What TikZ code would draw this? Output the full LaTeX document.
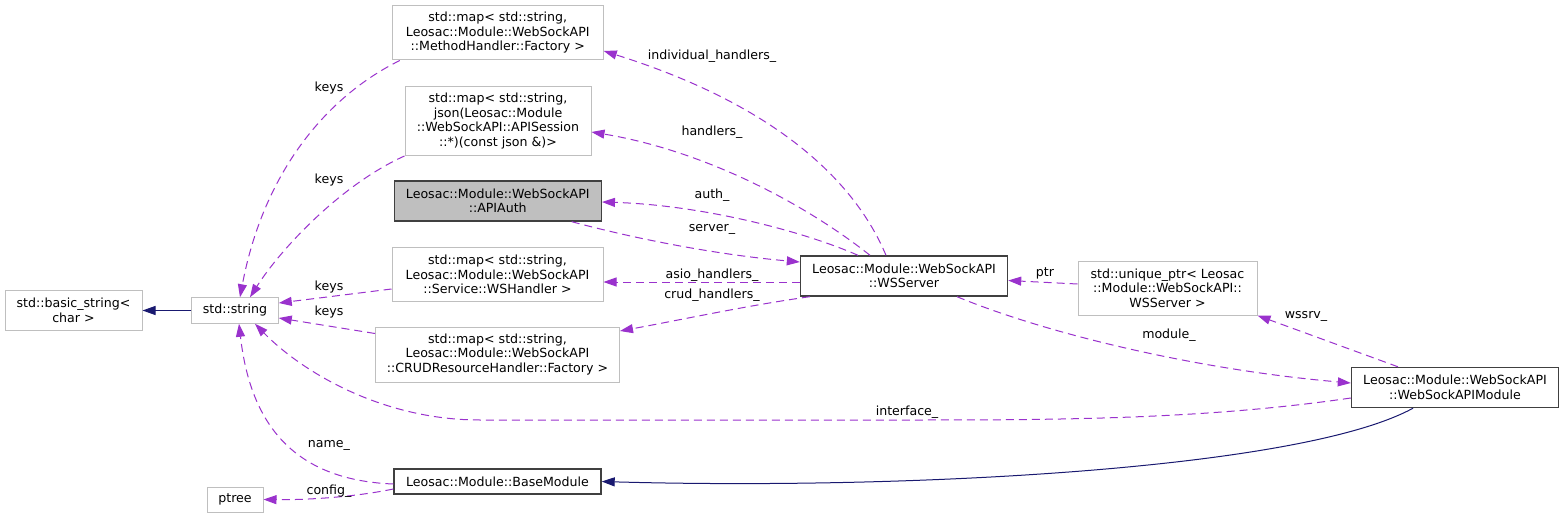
\documentclass[tikz,border=0pt]{standalone}
\usepackage{fontspec}
\setmainfont{DejaVu Sans}
\usetikzlibrary{arrows.meta,calc}
\definecolor{edgepurple}{RGB}{154,50,205}
\definecolor{navyedge}{RGB}{25,25,112}
\definecolor{boxgray}{RGB}{191,191,191}
\definecolor{docborder}{RGB}{64,64,64}
\tikzset{
  box/.style={draw=boxgray, line width=1pt, fill=white, inner sep=0pt, align=center,
    font=\fontsize{12.6}{14.5}\selectfont},
  docbox/.style={box, draw=docborder, line width=1.4pt},
  col/.style={draw=edgepurple, line width=1pt, dash pattern=on 8pt off 5pt,
    -{Triangle[length=13pt,width=9pt,fill=edgepurple]}},
  inh/.style={draw=navyedge, line width=1pt,
    -{Triangle[length=13pt,width=9pt,fill=navyedge]}},
  lbl/.style={inner sep=0pt, font=\fontsize{12.6}{14.5}\selectfont, text=black}
}
\begin{document}
\begin{tikzpicture}[x=1pt,y=-1pt]
\useasboundingbox (0,0) rectangle (1564,519);
\fill[white] (0,0) rectangle (1564,519);
% nodes
\node[box, minimum width=137pt, minimum height=40pt] (bs) at (73.5,310.5) {std::basic\_string<\\char >};
\node[box, minimum width=86.5pt, minimum height=25.5pt] (str) at (235,310.5) {std::string};
\node[box, minimum width=211pt, minimum height=54pt] (mh) at (497.75,33) {std::map< std::string,\\ Leosac::Module::WebSockAPI\\::MethodHandler::Factory >};
\node[box, minimum width=186pt, minimum height=69pt] (js) at (498,121) {std::map< std::string,\\ json(Leosac::Module\\::WebSockAPI::APISession\\::*)(const json \&)>};
\node[docbox, fill=boxgray, minimum width=207pt, minimum height=40pt] (auth) at (497.75,201) {Leosac::Module::WebSockAPI\\::APIAuth};
\node[box, minimum width=211pt, minimum height=54pt] (wsh) at (497.5,274.5) {std::map< std::string,\\ Leosac::Module::WebSockAPI\\::Service::WSHandler >};
\node[box, minimum width=244pt, minimum height=55pt] (crud) at (497.5,354.5) {std::map< std::string,\\ Leosac::Module::WebSockAPI\\::CRUDResourceHandler::Factory >};
\node[docbox, minimum width=207pt, minimum height=40pt] (srv) at (904,276) {Leosac::Module::WebSockAPI\\::WSServer};
\node[box, minimum width=179pt, minimum height=54pt] (up) at (1167.5,288) {std::unique\_ptr< Leosac\\::Module::WebSockAPI::\\WSServer >};
\node[docbox, minimum width=207pt, minimum height=40pt] (wsm) at (1455,387.5) {Leosac::Module::WebSockAPI\\::WebSockAPIModule};
\node[docbox, minimum width=207pt, minimum height=25pt] (bm) at (497.5,481.5) {Leosac::Module::BaseModule};
\node[box, minimum width=56pt, minimum height=25pt] (pt) at (235,499.5) {ptree};
% inheritance
\draw[inh] (str.west) -- (bs.east);
\draw[inh] ($(wsm.south)+(-42,0)$) .. controls (1300,470) and (900,490) .. (bm.east);
% keys
\draw[col] ($(mh.south west)+(8,0)$) .. controls (320,100) and (262,180) .. ($(str.north)+(5,0)$);
\draw[col] (js.south west) .. controls (340,185) and (280,250) .. ($(str.north)+(15,0)$);
\draw[col] ($(wsh.west)+(0,14.5)$) -- ($(str.east)+(0,-7.5)$);
\draw[col] ($(crud.north west)+(0,7)$) -- ($(str.east)+(0,7.5)$);
\node[lbl] (k1) at (329,88) {keys};
\node[lbl] (k2) at (329,180) {keys};
\node[lbl] (k3) at (329,287) {keys};
\node[lbl] (k4) at (329,312) {keys};
% base module members
\draw[col] ($(bm.west)+(0,2.5)$) .. controls (290,480) and (250,420) .. ($(str.south)+(4,0)$);
\draw[col] ($(bm.west)+(0,7.5)$) .. controls (350,498) and (300,500) .. (pt.east);
\node[lbl] (ln) at (329,445) {name\_};
\node[lbl] (lc) at (329,491) {config\_};
% interface_
\draw[col] ($(wsm.west)+(0,10.5)$) .. controls (1200,420) and (1050,420) .. (900,420) -- (480,420) .. controls (380,420) and (300,370) .. ($(str.south)+(20,0)$);
\node[lbl] (li) at (907,412) {interface\_};
% WSServer members
\draw[col] ($(srv.north)+(-18,0)$) .. controls (850,170) and (760,100) .. ($(mh.east)+(0,18)$);
\draw[col] ($(srv.north)+(-34,0)$) .. controls (800,200) and (700,150) .. ($(js.east)+(0,11)$);
\draw[col] ($(srv.north)+(-46,0)$) .. controls (800,230) and (700,205) .. ($(auth.east)+(0,1)$);
\draw[col] ($(auth.south)+(74,0)$) .. controls (640,240) and (720,255) .. ($(srv.west)+(0,-14)$);
\draw[col] ($(srv.west)+(0,6)$) -- ($(wsh.east)+(0,7.5)$);
\draw[col] ($(srv.south west)+(10,0)$) .. controls (750,305) and (680,320) .. ($(crud.east)+(0,-23.5)$);
\node[lbl] (l1) at (712,56) {individual\_handlers\_};
\node[lbl] (l2) at (712,132) {handlers\_};
\node[lbl] (l3) at (712,195) {auth\_};
\node[lbl] (l4) at (712,229) {server\_};
\node[lbl] (l5) at (712,275) {asio\_handlers\_};
\node[lbl] (l6) at (712,295) {crud\_handlers\_};
% right side
\draw[col] ($(up.west)+(0,-4)$) -- ($(srv.east)+(0,4.5)$);
\node[lbl] (lp) at (1045,273) {ptr};
\draw[col] ($(wsm.north)+(-57,0)$) -- (up.south east);
\node[lbl] (lw) at (1306,316) {wssrv\_};
\draw[col] ($(srv.south)+(53,0)$) .. controls (1050,335) and (1200,370) .. ($(wsm.west)+(0,-4.5)$);
\node[lbl] (lm) at (1169,335) {module\_};
\end{tikzpicture}
\end{document}
